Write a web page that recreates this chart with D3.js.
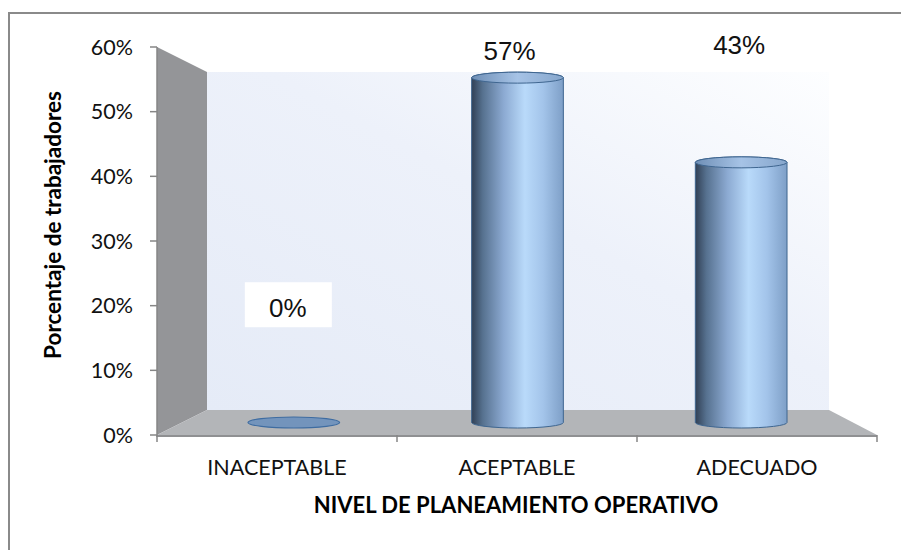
<!DOCTYPE html>
<html>
<head>
<meta charset="utf-8">
<script src="https://cdn.jsdelivr.net/npm/d3@7/dist/d3.min.js"></script>
<style>
  html, body { margin: 0; padding: 0; background: #fff; }
  svg { display: block; }
</style>
</head>
<body>
<svg id="chart" width="901" height="550"></svg>
<script>
// Nivel de planeamiento operativo — share of workers per level
const categories = ["INACEPTABLE", "ACEPTABLE", "ADECUADO"];
const values = [0, 57, 43];
const valueLabels = ["0%", "57%", "43%"];
const yTicks = [0, 10, 20, 30, 40, 50, 60];
const yTickLabels = ["0%", "10%", "20%", "30%", "40%", "50%", "60%"];
const yTitle = "Porcentaje de trabajadores";
const xTitle = "NIVEL DE PLANEAMIENTO OPERATIVO";

const svg = d3.select("#chart");
const defs = svg.append("defs");

// 3D box: front plane and back plane of the plot area
const front = { x0: 157, x1: 877, yBase: 435, yTop: 47 };
const back  = { x0: 207, x1: 829, yBase: 410, yTop: 72 };
const mid = {
  x0: (front.x0 + back.x0) / 2, x1: (front.x1 + back.x1) / 2,
  yBase: (front.yBase + back.yBase) / 2, yTop: (front.yTop + back.yTop) / 2
};

const yFront = d3.scaleLinear().domain([0, 60]).range([front.yBase, front.yTop]);
const yMid = d3.scaleLinear().domain([0, 60]).range([mid.yBase, mid.yTop]);
const xFront = d3.scaleBand().domain(categories).range([front.x0, front.x1]);
const xMid = d3.scaleBand().domain(categories).range([mid.x0, mid.x1]);

const textFont = "Lato, 'Open Sans', sans-serif";

// Outer frame (left and top edges)
svg.append("path")
  .attr("d", "M9,550 L9,13 L901,13")
  .attr("fill", "none").attr("stroke", "#8a8a8a").attr("stroke-width", 2);

// Back wall gradient
const wallGrad = defs.append("linearGradient").attr("id", "wall")
  .attr("x1", "0%").attr("y1", "100%").attr("x2", "100%").attr("y2", "0%");
wallGrad.append("stop").attr("offset", "0%").attr("stop-color", "#e5ebf7");
wallGrad.append("stop").attr("offset", "55%").attr("stop-color", "#edf1fa");
wallGrad.append("stop").attr("offset", "100%").attr("stop-color", "#fdfeff");

svg.append("rect")
  .attr("x", back.x0).attr("y", back.yTop)
  .attr("width", back.x1 - back.x0).attr("height", back.yBase - back.yTop)
  .attr("fill", "url(#wall)");

// Side wall
svg.append("polygon")
  .attr("points", [[front.x0, front.yTop], [back.x0, back.yTop], [back.x0, back.yBase], [front.x0, front.yBase]].join(" "))
  .attr("fill", "#949598");

// Floor
svg.append("polygon")
  .attr("points", [[front.x0, front.yBase], [back.x0, back.yBase], [back.x1, back.yBase], [front.x1, front.yBase]].join(" "))
  .attr("fill", "#b3b5b8");
svg.append("line")
  .attr("x1", front.x0).attr("x2", front.x1)
  .attr("y1", front.yBase + 1).attr("y2", front.yBase + 1)
  .attr("stroke", "#8f9092").attr("stroke-width", 2);

// Y axis
const yAxisG = svg.append("g");
yAxisG.append("line")
  .attr("x1", front.x0).attr("x2", front.x0)
  .attr("y1", front.yTop).attr("y2", front.yBase + 2)
  .attr("stroke", "#868686").attr("stroke-width", 1.5);
yAxisG.selectAll(".tk").data(yTicks).join("line")
  .attr("x1", front.x0 - 7).attr("x2", front.x0)
  .attr("y1", d => yFront(d)).attr("y2", d => yFront(d))
  .attr("stroke", "#868686").attr("stroke-width", 1.5);
yAxisG.selectAll(".tl").data(yTicks).join("text")
  .attr("x", 133).attr("y", d => yFront(d))
  .attr("dy", "0.36em")
  .attr("text-anchor", "end")
  .attr("font-family", textFont)
  .attr("font-size", 21.5).attr("fill", "#111")
  .text((d, i) => yTickLabels[i]);

// X axis ticks and category labels
const xEdges = categories.map(c => xFront(c)).concat([front.x1]);
svg.selectAll(".xt").data(xEdges).join("line")
  .attr("x1", d => d).attr("x2", d => d)
  .attr("y1", front.yBase).attr("y2", front.yBase + 7)
  .attr("stroke", "#868686").attr("stroke-width", 1.5);
svg.selectAll(".xl").data(categories).join("text")
  .attr("x", d => xFront(d) + xFront.bandwidth() / 2).attr("y", 475)
  .attr("text-anchor", "middle")
  .attr("font-family", textFont)
  .attr("font-size", 21.5).attr("fill", "#111")
  .text(d => d);

// Axis titles
svg.append("text")
  .attr("x", 516).attr("y", 513)
  .attr("text-anchor", "middle")
  .attr("font-family", textFont)
  .attr("font-weight", "bold").attr("font-size", 22).attr("fill", "#000")
  .text(xTitle);
svg.append("text")
  .attr("transform", "translate(61,225) rotate(-90)")
  .attr("text-anchor", "middle")
  .attr("font-family", textFont)
  .attr("font-weight", "bold").attr("font-size", 22.5).attr("fill", "#000")
  .text(yTitle);

// Cylinder shading
const bodyGrad = defs.append("linearGradient").attr("id", "cylBody")
  .attr("x1", "0%").attr("x2", "100%").attr("y1", "0%").attr("y2", "0%");
[["0%", "#314055"], ["12%", "#56718f"], ["35%", "#8caad2"], ["58%", "#b9dafa"], ["78%", "#a3c4ea"], ["100%", "#7e9fc7"]]
  .forEach(([o, c]) => bodyGrad.append("stop").attr("offset", o).attr("stop-color", c));
const topGrad = defs.append("linearGradient").attr("id", "cylTop")
  .attr("x1", "0%").attr("x2", "100%").attr("y1", "0%").attr("y2", "0%");
[["0%", "#6f8fb6"], ["50%", "#a6c3e6"], ["100%", "#86a6cc"]]
  .forEach(([o, c]) => topGrad.append("stop").attr("offset", o).attr("stop-color", c));

const rxFrac = 0.205;
const ry = 5.5;
const bars = svg.append("g");
categories.forEach((c, i) => {
  const cx = xMid(c) + xMid.bandwidth() / 2;
  const rx = xMid.bandwidth() * rxFrac;
  const yb = yMid(0);
  const yt = yMid(values[i]);
  if (values[i] > 0) {
    bars.append("path")
      .attr("d", `M${cx - rx},${yt} L${cx - rx},${yb} A${rx},${ry} 0 0 0 ${cx + rx},${yb} L${cx + rx},${yt} A${rx},${ry} 0 0 0 ${cx - rx},${yt} Z`)
      .attr("fill", "url(#cylBody)")
      .attr("stroke", "#3f6690").attr("stroke-width", 1);
    bars.append("ellipse")
      .attr("cx", cx).attr("cy", yt).attr("rx", rx).attr("ry", ry)
      .attr("fill", "url(#cylTop)")
      .attr("stroke", "#3f6690").attr("stroke-width", 1);
  } else {
    bars.append("ellipse")
      .attr("cx", cx).attr("cy", yb).attr("rx", rx).attr("ry", ry)
      .attr("fill", "#7394bc")
      .attr("stroke", "#3e6ca1").attr("stroke-width", 1.2);
  }
});

// Value labels (positioned in value units on the mid plane)
const labelLevel = [17.4, 59.9, 60.9];
const labelDx = [-6, -8, -2];
const labels = svg.append("g");
categories.forEach((c, i) => {
  const x = xMid(c) + xMid.bandwidth() / 2 + labelDx[i];
  const y = yMid(labelLevel[i]);
  if (values[i] === 0) {
    labels.append("rect")
      .attr("x", x - 43).attr("y", y - 35)
      .attr("width", 87).attr("height", 45)
      .attr("fill", "#fff");
  }
  labels.append("text")
    .attr("x", x).attr("y", y)
    .attr("text-anchor", "middle")
    .attr("font-family", "'Liberation Sans', Arial, sans-serif")
    .attr("font-size", 26).attr("fill", "#111")
    .text(valueLabels[i]);
});
</script>
</body>
</html>
